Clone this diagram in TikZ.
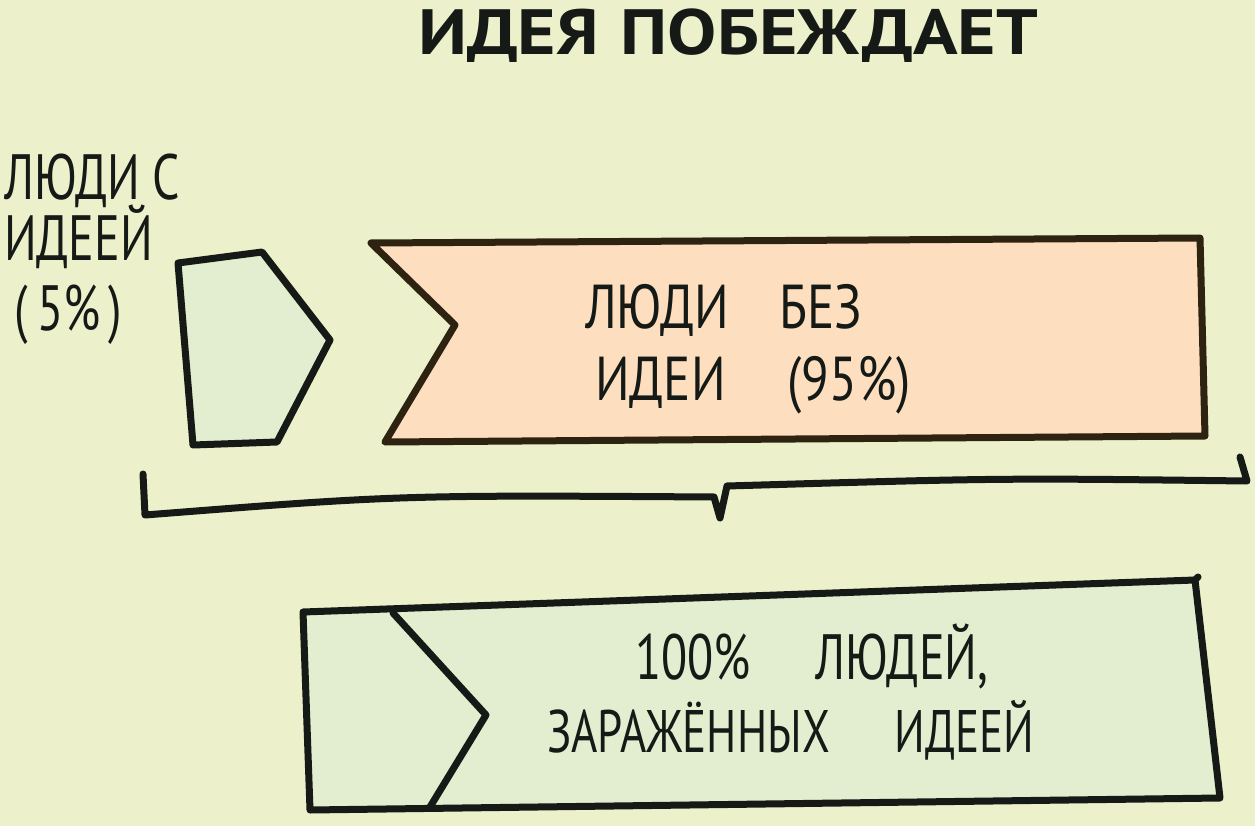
\documentclass[tikz,border=0pt]{standalone}
\usepackage{fontspec}
\setmainfont{PT Sans}
\newfontfamily\handfont{PT Sans}[FakeStretch=0.75]
\newfontfamily\widehandfont{PT Sans}[FakeStretch=0.82]
\newfontfamily\titlefont{PT Sans}[FakeStretch=1.15]
\definecolor{bgc}{HTML}{ECF0CB}
\definecolor{inkc}{HTML}{151A16}
\definecolor{brownink}{HTML}{2E2210}
\definecolor{greenfill}{HTML}{E3EDCF}
\definecolor{peachfill}{HTML}{FDDFC0}
\tikzset{
  ink/.style={line width=7pt, draw=inkc, line join=round, line cap=round},
  browninkline/.style={line width=7pt, draw=brownink, line join=round, line cap=round},
  lbl/.style={inner sep=0pt, text=inkc, anchor=base west, font=\handfont},
}
\begin{document}
\begin{tikzpicture}[x=1pt,y=-1pt]
\fill[bgc] (0,0) rectangle (1255,826);
\useasboundingbox (0,0) rectangle (1255,826);

% title
\node[inner sep=0pt, text=inkc, anchor=base, font=\titlefont\bfseries\fontsize{64}{64}\selectfont] (title) at (728,55) {ИДЕЯ\hspace{22pt}ПОБЕЖДАЕТ};

% left label
\node[lbl, font=\handfont\fontsize{64}{64}\selectfont] (l1) at (4,200) {ЛЮДИ\hspace{12pt}С};
\node[lbl, font=\handfont\fontsize{64}{64}\selectfont] (l2) at (4,261) {ИДЕЕЙ};
\node[lbl, font=\handfont\fontsize{64}{64}\selectfont] (l3) at (14,330) {(\hspace{10pt}5\%\hspace{8pt})};

% pentagon
\path[ink, fill=greenfill] (178,263) -- (262,252) -- (330,340) -- (277,442) -- (193,445) -- cycle;

% orange banner
\path[browninkline, fill=peachfill] (371,243) -- (1200,238) -- (1205,436) -- (385,442) -- (455,325) -- cycle;
\node[lbl, font=\widehandfont\fontsize{62}{62}\selectfont] (o1) at (585,328) {ЛЮДИ\hspace{50pt}БЕЗ};
\node[lbl, font=\widehandfont\fontsize{62}{62}\selectfont] (o2) at (595,400) {ИДЕИ\hspace{62pt}(95\%)};

% bracket
\draw[ink] (143,474) -- (145,515) .. controls (400,495) .. (714,497) -- (720,518) -- (727,486) .. controls (1000,478) .. (1247,481) -- (1240,457);

% bottom banner
\path[ink, fill=greenfill] (303,612) -- (1195,580) -- (1220,798) -- (310,810) -- cycle;
\draw[ink] (1195,580) -- (1198,577);
\draw[ink] (393,613) -- (486,715) -- (430,807);
\node[lbl, font=\handfont\fontsize{64}{64}\selectfont] (b1) at (635,679) {100\%\hspace{65pt}ЛЮДЕЙ,};
\node[lbl, font=\handfont\fontsize{60}{60}\selectfont] (b2) at (547,752) {ЗАРАЖЁННЫХ\hspace{65pt}ИДЕЕЙ};
\end{tikzpicture}
\end{document}
